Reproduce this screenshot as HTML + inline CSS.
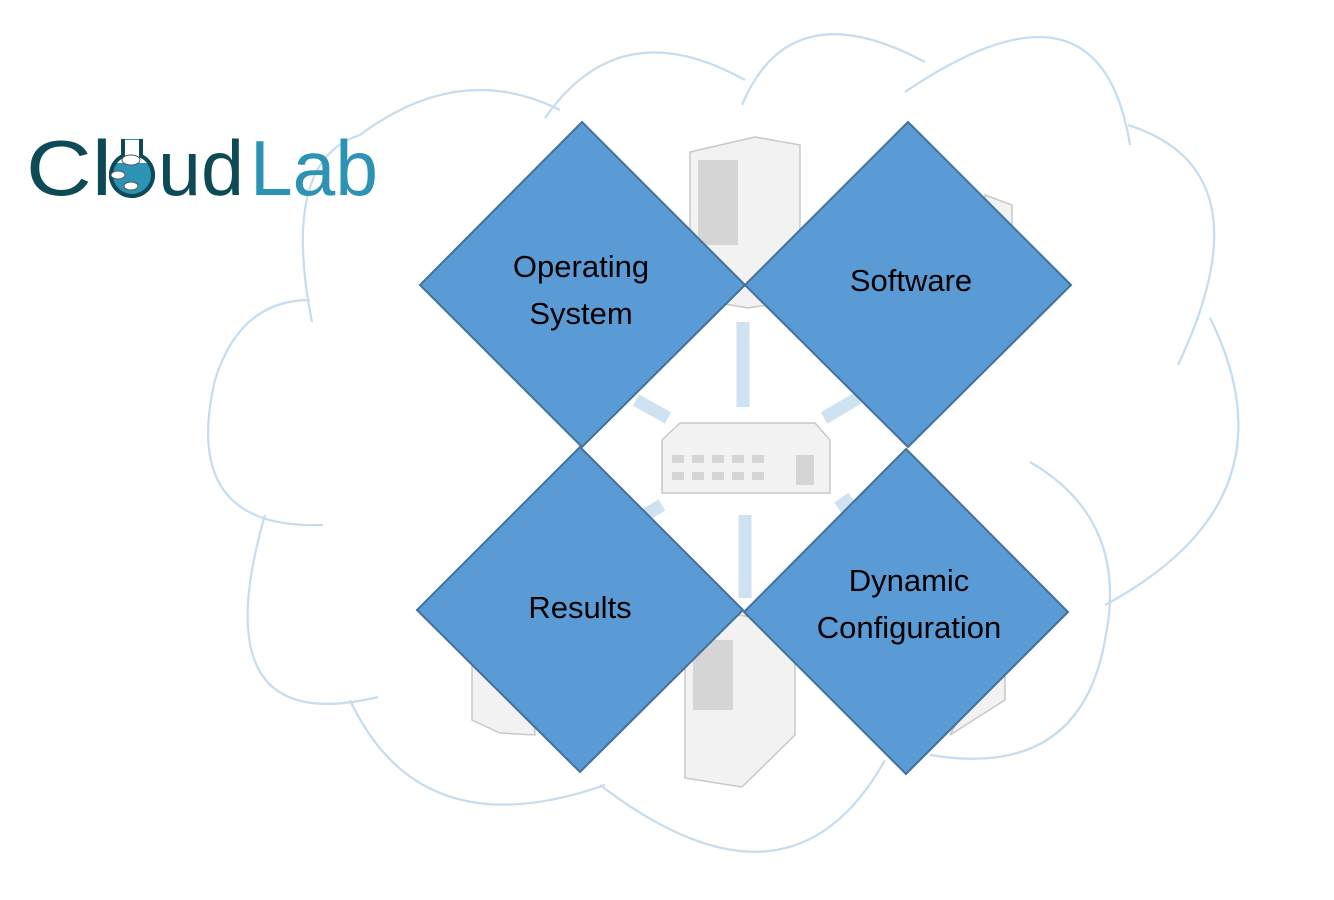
<!DOCTYPE html>
<html><head><meta charset="utf-8"><style>
html,body{margin:0;padding:0;background:#fff;}
svg{display:block}
</style></head><body>
<svg width="1334" height="900" viewBox="0 0 1334 900" xmlns="http://www.w3.org/2000/svg">
<g fill="none" stroke="#c6dcef" stroke-width="2.2">
<path d="M360,135 Q460,60 560,110"/>
<path d="M545,118 Q620,10 745,80"/>
<path d="M742,105 Q790,-10 925,62"/>
<path d="M905,92 Q1100,-40 1130,145"/>
<path d="M1128,125 Q1270,170 1178,365"/>
<path d="M1210,318 Q1300,500 1105,605"/>
<path d="M1030,462 Q1130,520 1105,640 Q1080,780 930,755"/>
<path d="M885,760 Q790,930 600,785"/>
<path d="M605,785 Q420,850 350,700"/>
<path d="M378,697 Q200,740 265,515"/>
<path d="M323,525 Q180,530 215,380 Q240,300 310,300"/>
<path d="M312,322 Q280,160 360,135"/>
</g>
<g stroke="#cfe2f2" stroke-width="13">
<line x1="743" y1="322" x2="743" y2="407"/>
<line x1="745" y1="515" x2="745" y2="598"/>
<line x1="636" y1="400" x2="668" y2="418"/>
<line x1="824" y1="418" x2="858" y2="398"/>
<line x1="645" y1="515" x2="662" y2="505"/>
<line x1="838" y1="508" x2="852" y2="498"/>
</g>
<g fill="#f2f2f2" stroke="#c8c8c8" stroke-width="1.5">
<path d="M690,152 L755,137 L800,145 L800,300 L748,308 L690,298 Z"/>
<path d="M685,630 L740,615 L795,625 L795,735 L742,787 L685,778 Z"/>
<path d="M472,660 L530,660 L535,735 L500,733 L472,720 Z"/>
<path d="M985,195 L1012,205 L1012,245 L990,250 Z"/>
<path d="M980,680 L1005,670 L1005,700 L950,735 Z"/>
<path d="M662,440 L680,423 L815,423 L830,440 L830,493 L662,493 Z"/>
</g>
<g fill="#d5d5d5">
<rect x="672" y="455" width="12" height="8"/><rect x="692" y="455" width="12" height="8"/><rect x="712" y="455" width="12" height="8"/><rect x="732" y="455" width="12" height="8"/><rect x="752" y="455" width="12" height="8"/>
<rect x="672" y="472" width="12" height="8"/><rect x="692" y="472" width="12" height="8"/><rect x="712" y="472" width="12" height="8"/><rect x="732" y="472" width="12" height="8"/><rect x="752" y="472" width="12" height="8"/>
<rect x="796" y="455" width="18" height="30"/>
<rect x="698" y="160" width="40" height="85"/>
<rect x="693" y="640" width="40" height="70"/>
</g>
<g fill="#5b9bd5" stroke="#41719c" stroke-width="2">
<polygon points="582,122 745,285 582,447 420,285"/>
<polygon points="908,122 1071,285 908,447 745,285"/>
<polygon points="580,447 743,610 580,772 417,610"/>
<polygon points="906,449 1068,612 906,774 744,612"/>
</g>
<g font-family="Liberation Sans, sans-serif" font-size="31" fill="#000" text-anchor="middle">
<text x="581" y="277">Operating</text>
<text x="581" y="324">System</text>
<text x="911" y="291">Software</text>
<text x="580" y="618">Results</text>
<text x="909" y="591">Dynamic</text>
<text x="909" y="638">Configuration</text>
</g>
<g font-family="Liberation Sans, sans-serif" font-size="78">
<text x="26" y="195" fill="#0d4a55" textLength="86" lengthAdjust="spacingAndGlyphs">Cl</text>
<text x="158" y="195" fill="#0d4a55" textLength="86" lengthAdjust="spacingAndGlyphs">ud</text>
<text x="250" y="195" fill="#2d93b5" textLength="128" lengthAdjust="spacingAndGlyphs">Lab</text>
</g>
<path d="M123,139 L123,156 A21,21 0 1,0 141,156 L141,139" fill="#2d93b5" stroke="#0d4a55" stroke-width="4"/>
<path d="M123,140 L123,156 A21,21 0 0,0 114,163 L150,163 A21,21 0 0,0 141,156 L141,140Z" fill="#fff"/>
<path d="M123,139 L123,156 A21,21 0 1,0 141,156 L141,139" fill="none" stroke="#0d4a55" stroke-width="4"/>
<g fill="#fff" stroke="#555" stroke-width="1">
<ellipse cx="131" cy="160" rx="9" ry="5"/>
<ellipse cx="118" cy="175" rx="7" ry="4"/>
<ellipse cx="131" cy="186" rx="7" ry="4"/>
</g>
</svg>
</body></html>
